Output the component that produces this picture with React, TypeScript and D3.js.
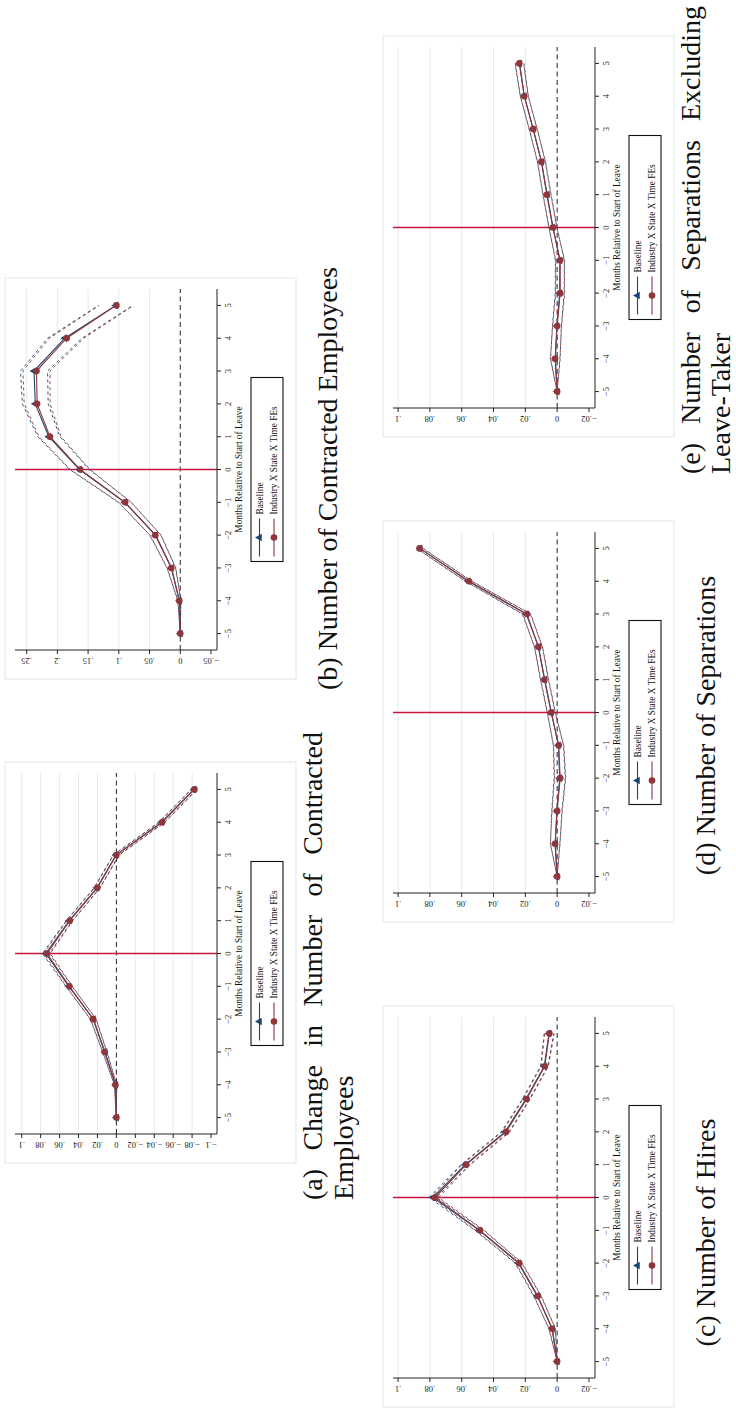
import React from "react";
import * as d3 from "d3";

// Event-time axis shared by every panel
const months = [-5, -4, -3, -2, -1, 0, 1, 2, 3, 4, 5];

// (a) Change in Number of Contracted Employees
const aTicks = [0.1, 0.08, 0.06, 0.04, 0.02, 0, -0.02, -0.04, -0.06, -0.08, -0.1];
const aTickLabels = [".1", ".08", ".06", ".04", ".02", "0", "−.02", "−.04", "−.06", "−.08", "−.1"];
const aBase = [0.0, 0.0008, 0.0121, 0.0243, 0.0502, 0.0745, 0.0498, 0.0205, 0.0004, -0.0478, -0.082];
const aBaseCI = [0.0, 0.0012, 0.0022, 0.003, 0.0033, 0.0036, 0.0033, 0.0031, 0.003, 0.003, 0.003];
const aInd = [0.0, 0.001, 0.0124, 0.0246, 0.0497, 0.0732, 0.0493, 0.0201, 0.0, -0.0483, -0.0824];
const aIndCI = [0.0, 0.0012, 0.0022, 0.003, 0.0032, 0.0035, 0.0032, 0.003, 0.003, 0.003, 0.003];

// (b) Number of Contracted Employees
const bTicks = [0.25, 0.2, 0.15, 0.1, 0.05, 0, -0.05];
const bTickLabels = [".25", ".2", ".15", ".1", ".05", "0", "−.05"];
const bBase = [0.0, 0.0013, 0.0142, 0.0401, 0.0905, 0.164, 0.214, 0.236, 0.238, 0.188, 0.105];
const bBaseCI = [0.0, 0.0025, 0.007, 0.009, 0.0105, 0.016, 0.018, 0.021, 0.022, 0.028, 0.028];
const bInd = [0.0, 0.0016, 0.0146, 0.0406, 0.0898, 0.163, 0.212, 0.233, 0.234, 0.185, 0.104];
const bIndCI = [0.0, 0.0025, 0.007, 0.009, 0.01, 0.016, 0.018, 0.021, 0.022, 0.028, 0.028];

// (c)-(e) share one value axis
const cdeTicks = [0.1, 0.08, 0.06, 0.04, 0.02, 0, -0.02];
const cdeTickLabels = [".1", ".08", ".06", ".04", ".02", "0", "−.02"];

// (c) Number of Hires
const cBase = [0.0, 0.003, 0.0125, 0.0243, 0.049, 0.0781, 0.0578, 0.0327, 0.0196, 0.0081, 0.0051];
const cBaseCI = [0.0, 0.002, 0.0023, 0.0021, 0.0027, 0.0023, 0.0027, 0.0024, 0.0022, 0.0023, 0.003];
const cInd = [0.0, 0.0032, 0.0122, 0.0239, 0.0485, 0.0768, 0.0572, 0.0321, 0.0192, 0.0078, 0.0049];
const cIndCI = [0.0, 0.002, 0.0023, 0.002, 0.0027, 0.0022, 0.0027, 0.0024, 0.0022, 0.0023, 0.003];

// (d) Number of Separations
const dBase = [0.0, 0.0012, 0.0002, -0.0016, -0.0008, 0.0036, 0.0078, 0.0117, 0.0194, 0.0558, 0.0862];
const dBaseCI = [0.0, 0.003, 0.0032, 0.0035, 0.0032, 0.0025, 0.0025, 0.0025, 0.0025, 0.002, 0.002];
const dInd = [0.0, 0.0013, 0.0, -0.0019, -0.001, 0.0038, 0.008, 0.0118, 0.019, 0.0555, 0.0865];
const dIndCI = [0.0, 0.003, 0.0032, 0.0035, 0.0032, 0.0025, 0.0025, 0.0025, 0.0025, 0.002, 0.002];

// (e) Number of Separations Excluding Leave-Taker
const eBase = [0.0, 0.0011, 0.0002, -0.0016, -0.0017, 0.0026, 0.0063, 0.0098, 0.0151, 0.0206, 0.0236];
const eBaseCI = [0.0, 0.003, 0.0028, 0.0028, 0.0028, 0.0025, 0.0025, 0.0025, 0.0025, 0.0025, 0.0027];
const eInd = [0.0, 0.0013, 0.0, -0.0019, -0.0019, 0.0027, 0.0065, 0.0099, 0.015, 0.0207, 0.0238];
const eIndCI = [0.0, 0.003, 0.0028, 0.0028, 0.0028, 0.0025, 0.0025, 0.0025, 0.0025, 0.0025, 0.0027];

const legendLabels = ["Baseline", "Industry X State X Time FEs"];
const axisTitle = "Months Relative to Start of Leave";

const NAVY = "#1a476f";
const MAROON = "#90353b";
const REDLINE = "#c8163e";
const GRID = "#e2ecee";
const FRAME = "#dde8ea";
const SERIF = "'Liberation Serif', 'Times New Roman', serif";

type PanelSpec = {
  id: string;
  caption: string[];
  capShift: number;
  u0: number;
  vOff: number;
  domain: [number, number];
  ticks: number[];
  tickLabels: string[];
  base: number[];
  baseCI: number[];
  ind: number[];
  indCI: number[];
  capBase: number[];
};

const panels: PanelSpec[] = [
  { id: "a", caption: ["(a) Change in Number of Contracted", "Employees"], capShift: 0, u0: 253, vOff: 0,
    domain: [-0.1063, 0.1071], ticks: aTicks, tickLabels: aTickLabels,
    base: aBase, baseCI: aBaseCI, ind: aInd, indCI: aIndCI, capBase: [322, 353] },
  { id: "b", caption: ["(b) Number of Contracted Employees"], capShift: 0, u0: 737, vOff: 0,
    domain: [-0.0598, 0.269], ticks: bTicks, tickLabels: bTickLabels,
    base: bBase, baseCI: bBaseCI, ind: bInd, indCI: bIndCI, capBase: [337] },
  { id: "c", caption: ["(c) Number of Hires"], capShift: -26, u0: 9, vOff: 378,
    domain: [-0.0238, 0.1032], ticks: cdeTicks, tickLabels: cdeTickLabels,
    base: cBase, baseCI: cBaseCI, ind: cInd, indCI: cIndCI, capBase: [337] },
  { id: "d", caption: ["(d) Number of Separations"], capShift: -4, u0: 494, vOff: 378,
    domain: [-0.0238, 0.1032], ticks: cdeTicks, tickLabels: cdeTickLabels,
    base: dBase, baseCI: dBaseCI, ind: dInd, indCI: dIndCI, capBase: [337] },
  { id: "e", caption: ["(e) Number of Separations Excluding", "Leave-Taker"], capShift: 0, u0: 979, vOff: 378,
    domain: [-0.0238, 0.1032], ticks: cdeTicks, tickLabels: cdeTickLabels,
    base: eBase, baseCI: eBaseCI, ind: eInd, indCI: eIndCI, capBase: [322, 352] },
];

let measureCtx: CanvasRenderingContext2D | null = null;
function textWidth(s: string, font: string): number {
  if (!measureCtx) measureCtx = document.createElement("canvas").getContext("2d");
  if (!measureCtx) return s.length * 12;
  measureCtx.font = font;
  return measureCtx.measureText(s).width;
}

const CAP_SIZE = 28;
const CAP_FONT = `${CAP_SIZE}px 'Liberation Serif'`;

function Caption({ p }: { p: PanelSpec }) {
  const center = p.u0 + 200.5 + p.capShift;
  if (p.caption.length === 1) {
    return (
      <text x={center} y={p.vOff + p.capBase[0]} textAnchor="middle" fontFamily={SERIF}
        fontSize={CAP_SIZE} fill="#111">{p.caption[0]}</text>
    );
  }
  // two-line caption: first line justified over the caption width
  const start = center - 237.5;
  const width = 468;
  const words = p.caption[0].split(" ");
  const widths = words.map((w) => textWidth(w, CAP_FONT));
  const total = widths.reduce((s, w) => s + w, 0);
  const gap = (width - total) / (words.length - 1);
  let x = start;
  const placed = words.map((w, i) => {
    const el = (
      <text key={i} x={x} y={p.vOff + p.capBase[0]} fontFamily={SERIF} fontSize={CAP_SIZE} fill="#111">{w}</text>
    );
    x += widths[i] + gap;
    return el;
  });
  return (
    <g>
      {placed}
      <text x={start} y={p.vOff + p.capBase[1]} fontFamily={SERIF} fontSize={CAP_SIZE} fill="#111">{p.caption[1]}</text>
    </g>
  );
}

function Panel({ p }: { p: PanelSpec }) {
  const uL = p.u0 + 29;
  const uR = p.u0 + 390;
  const vT = p.vOff + 15;
  const vB = p.vOff + 217;
  const x = d3.scaleLinear().domain([-5.5, 5.5]).range([uL, uR]);
  const y = d3.scaleLinear().domain(p.domain).range([vB, vT]);
  const line = d3.line<number>().x((_, i) => x(months[i])).y((d) => y(d));
  const lo = (v: number[], ci: number[]) => v.map((d, i) => d - ci[i]);
  const hi = (v: number[], ci: number[]) => v.map((d, i) => d + ci[i]);
  const tri = d3.symbol().type(d3.symbolTriangle).size(26)();
  const minTick = Math.min(...p.ticks);
  const uMid = (uL + uR) / 2;
  const legW = 184;
  const legL = uMid - legW / 2;

  return (
    <g>
      {/* outer graph region */}
      <rect x={p.u0} y={p.vOff + 5} width={401} height={291} fill="#fff" stroke={FRAME} strokeWidth={1} />
      {/* horizontal grid */}
      {p.ticks.filter((t) => t !== 0 && t !== minTick).map((t) => (
        <line key={t} x1={uL} x2={uR} y1={y(t)} y2={y(t)} stroke={GRID} strokeWidth={1} />
      ))}
      {/* reference lines */}
      <line x1={uL} x2={uR} y1={y(0)} y2={y(0)} stroke="#222" strokeWidth={1} strokeDasharray="5,3.5" />
      <line x1={x(0)} x2={x(0)} y1={vT} y2={vB} stroke={REDLINE} strokeWidth={1.5} />
      {/* confidence bands */}
      <path d={line(lo(p.base, p.baseCI)) || ""} fill="none" stroke={NAVY} strokeWidth={0.9} strokeDasharray="3,3" />
      <path d={line(hi(p.base, p.baseCI)) || ""} fill="none" stroke={NAVY} strokeWidth={0.9} strokeDasharray="3,3" />
      <path d={line(lo(p.ind, p.indCI)) || ""} fill="none" stroke={MAROON} strokeWidth={0.9} strokeDasharray="3,3" strokeDashoffset={3} />
      <path d={line(hi(p.ind, p.indCI)) || ""} fill="none" stroke={MAROON} strokeWidth={0.9} strokeDasharray="3,3" strokeDashoffset={3} />
      {/* estimates */}
      <path d={line(p.base) || ""} fill="none" stroke={NAVY} strokeWidth={1.1} />
      {p.base.map((d, i) => (
        <path key={i} d={tri || ""} transform={`translate(${x(months[i])},${y(d)})`} fill={NAVY} />
      ))}
      <path d={line(p.ind) || ""} fill="none" stroke={MAROON} strokeWidth={1.1} />
      {p.ind.map((d, i) => (
        <circle key={i} cx={x(months[i])} cy={y(d)} r={3.3} fill={MAROON} />
      ))}
      {/* axes */}
      <line x1={uL} x2={uL} y1={vT} y2={vB} stroke="#222" strokeWidth={1} />
      <line x1={uL} x2={uR} y1={vB} y2={vB} stroke="#222" strokeWidth={1} />
      {p.ticks.map((t, i) => (
        <g key={t}>
          <line x1={uL - 4} x2={uL} y1={y(t)} y2={y(t)} stroke="#222" strokeWidth={1} />
          <text transform={`translate(${uL - 8},${y(t)}) rotate(-90)`} textAnchor="middle"
            fontFamily={SERIF} fontSize={8.5} fill="#222">{p.tickLabels[i]}</text>
        </g>
      ))}
      {months.map((m) => (
        <g key={m}>
          <line x1={x(m)} x2={x(m)} y1={vB} y2={vB + 4} stroke="#222" strokeWidth={1} />
          <text x={x(m)} y={vB + 13.5} textAnchor="middle" fontFamily={SERIF} fontSize={8.5} fill="#222">
            {m < 0 ? `−${-m}` : `${m}`}
          </text>
        </g>
      ))}
      <text x={uMid} y={p.vOff + 242} textAnchor="middle" fontFamily={SERIF} fontSize={9.3} fill="#111">{axisTitle}</text>
      {/* legend */}
      <rect x={legL} y={p.vOff + 251} width={legW} height={32} fill="#fff" stroke="#111" strokeWidth={1.1} />
      {[0, 1].map((k) => {
        const cy = p.vOff + 259.5 + k * 14.5;
        const col = k === 0 ? NAVY : MAROON;
        return (
          <g key={k}>
            <line x1={legL + 5} x2={legL + 43} y1={cy} y2={cy} stroke={col} strokeWidth={1.1} />
            {k === 0 ? (
              <path d={tri || ""} transform={`translate(${legL + 24},${cy})`} fill={NAVY} />
            ) : (
              <circle cx={legL + 24} cy={cy} r={3.3} fill={MAROON} />
            )}
            <text x={legL + 47} y={cy + 3.3} fontFamily={SERIF} fontSize={9.3} fill="#111">{legendLabels[k]}</text>
          </g>
        );
      })}
      <Caption p={p} />
    </g>
  );
}

export default function App() {
  return (
    <svg width={736} height={1416} viewBox="0 0 736 1416"
      style={{ position: "absolute", left: 0, top: 0, background: "#fff" }}>
      <rect width={736} height={1416} fill="#fff" />
      {/* the whole sheet is laid out landscape and turned a quarter-turn */}
      <g transform="translate(0,1416) rotate(-90)">
        {panels.map((p) => (
          <Panel key={p.id} p={p} />
        ))}
      </g>
    </svg>
  );
}
